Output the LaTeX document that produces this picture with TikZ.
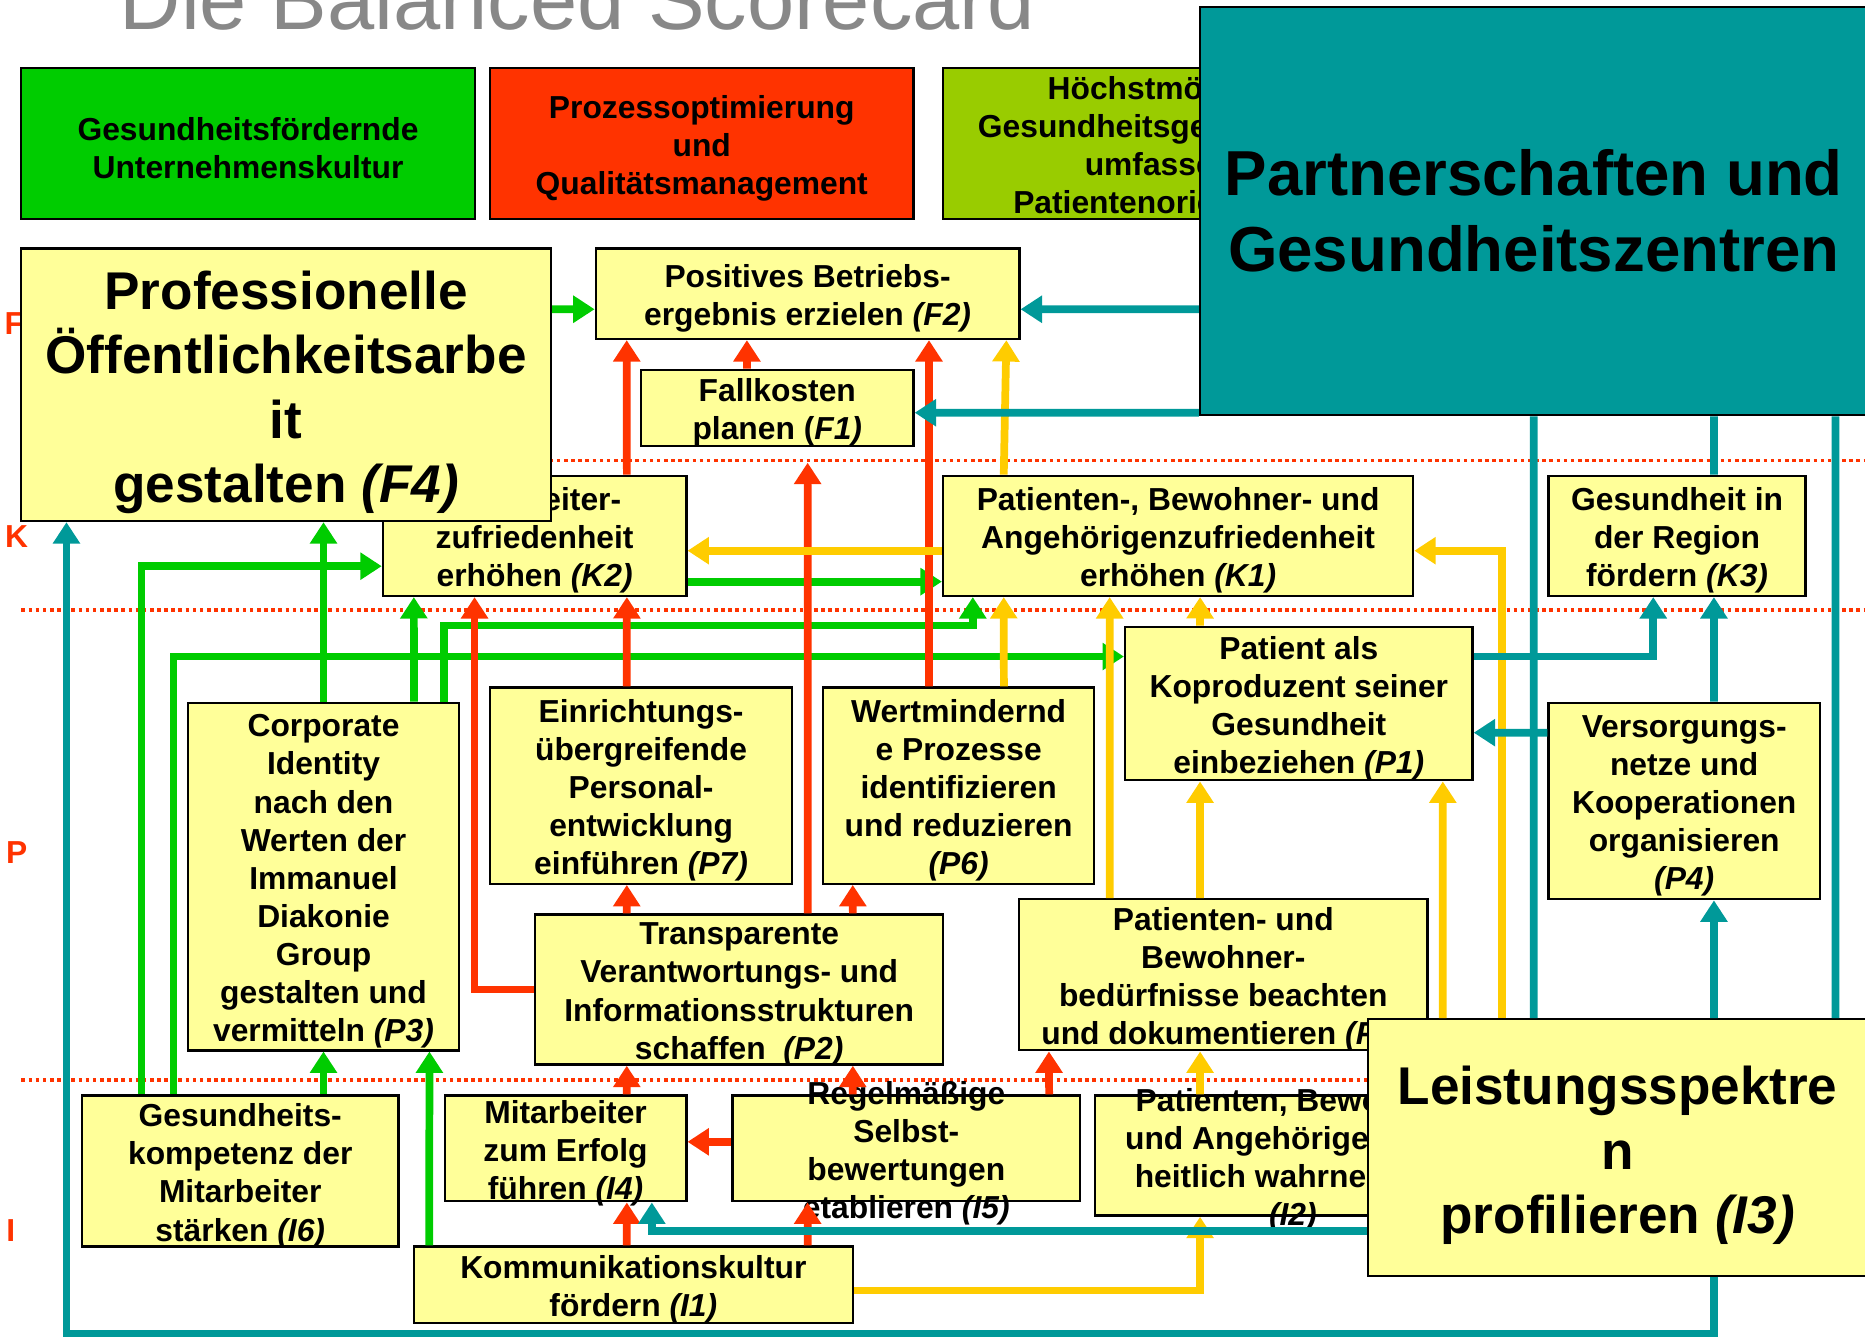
\documentclass[tikz,border=0pt]{standalone}
\usepackage{fontspec}
\setmainfont{Liberation Sans}
\usetikzlibrary{arrows.meta}
\definecolor{goalyellow}{HTML}{FFFF99}
\definecolor{arrowgreen}{HTML}{00CC00}
\definecolor{arrowred}{HTML}{FF3300}
\definecolor{arrowyellow}{HTML}{FFCC00}
\definecolor{arrowteal}{HTML}{009999}
\definecolor{limegreen}{HTML}{99CC00}
\definecolor{titlegray}{HTML}{888888}
\tikzset{
    goalbox/.style={draw=black, line width=0.55pt, fill=goalyellow, inner sep=0pt},
    goaltext/.style={align=center, inner sep=0pt, yshift=-0.04cm, font=\fontsize{7.6}{9.1}\selectfont\bfseries},
    bigtext/.style={align=center, inner sep=0pt, yshift=-0.065cm, font=\fontsize{12.7}{15.4}\selectfont\bfseries},
    headbox/.style={draw=black, line width=0.55pt, inner sep=0pt, minimum height=1.27cm},
    levelline/.style={draw=arrowred, line width=0.03cm, dash pattern=on 0.03cm off 0.03cm},
    levellabel/.style={text=arrowred, inner sep=0pt, font=\fontsize{7.6}{9.1}\selectfont\bfseries},
    conn/.style={line width=0.065cm},
    tip/.style={-{Triangle[width=0.22cm,length=0.18cm]}},
    greenarrow/.style={conn, tip, draw=arrowgreen},
    redarrow/.style={conn, tip, draw=arrowred},
    yellowarrow/.style={conn, tip, draw=arrowyellow},
    tealarrow/.style={conn, tip, draw=arrowteal},
    tealline/.style={conn, draw=arrowteal}
}
\begin{document}
\begin{tikzpicture}[x=0.01cm, y=-0.01cm]
    \useasboundingbox (0,0) rectangle (1568,1124);
    \node[anchor=base west, inner sep=0pt, text=titlegray, font=\fontsize{20.3}{24}\selectfont] (title) at (100,25) {Die Balanced Scorecard};

    % Ebenen
    \draw[levelline] (18,387) -- (1568,387);
    \draw[levelline] (18,513) -- (1568,513);
    \draw[levelline] (18,908) -- (1568,908);
    \node[levellabel] (lblF) at (12,272) {F};
    \node[levellabel] (lblK) at (14,451) {K};
    \node[levellabel] (lblP) at (14,717) {P};
    \node[levellabel] (lblI) at (9,1035) {I};

    % Strategische Themen
    \node[headbox, fill=arrowgreen, minimum width=3.81cm] (hgreen) at (208.5,120.5) {};
    \node[goaltext] (hgreent) at (hgreen) {Gesundheitsfördernde\\Unternehmenskultur};
    \node[headbox, fill=arrowred, minimum width=3.56cm] (hred) at (590,120.5) {};
    \node[goaltext] (hredt) at (hred) {Prozessoptimierung\\und\\Qualitätsmanagement};
    \node[headbox, fill=limegreen, minimum width=3.94cm] (hlime) at (990,120.5) {};
    \node[goaltext] (hlimet) at (hlime) {Höchstmöglicher\\Gesundheitsgewinn durch\\umfassende\\Patientenorientierung};
    \node[headbox, fill=arrowteal, minimum width=5.61cm, minimum height=3.43cm] (pz) at (1289.5,177.5) {};
    \node[align=center, inner sep=0pt, font=\fontsize{15.2}{18.2}\selectfont\bfseries] (pzt) at (pz) {Partnerschaften und\\Gesundheitszentren};

    % Finanzen
    \node[goalbox, minimum width=3.56cm, minimum height=0.76cm] (f2) at (679,247) {};
    \node[goaltext] (f2t) at (f2) {Positives Betriebs-\\ergebnis erzielen \textit{(F2)}};
    \node[goalbox, minimum width=2.29cm, minimum height=0.64cm] (f1) at (653.5,343) {};
    \node[goaltext] (f1t) at (f1) {Fallkosten\\planen (\textit{F1)}};

    % Kunden
    \node[goalbox, minimum width=2.55cm, minimum height=1.01cm] (k2) at (449.5,450.5) {};
    \node[goaltext] (k2t) at (k2) {Mitarbeiter-\\zufriedenheit\\erhöhen \textit{(K2)}};
    \node[goalbox, minimum width=4.45cm, minimum height=2.29cm] (f4) at (240.5,323.5) {};
    \node[bigtext] (f4t) at (f4) {Professionelle\\Öffentlichkeitsarbe\\it\\gestalten \textit{(F4)}};
    \node[goalbox, minimum width=3.95cm, minimum height=1.01cm] (k1) at (990.5,450.5) {};
    \node[goaltext] (k1t) at (k1) {Patienten-, Bewohner- und\\Angehörigenzufriedenheit\\erhöhen \textit{(K1)}};
    \node[goalbox, minimum width=2.16cm, minimum height=1.01cm] (k3) at (1410,450.5) {};
    \node[goaltext] (k3t) at (k3) {Gesundheit in\\der Region\\fördern \textit{(K3)}};

    % Prozesse
    \node[goalbox, minimum width=2.92cm, minimum height=1.29cm] (p1) at (1092,591.5) {};
    \node[goaltext] (p1t) at (p1) {Patient als\\Koproduzent seiner\\Gesundheit\\einbeziehen \textit{(P1)}};
    \node[goalbox, minimum width=2.28cm, minimum height=2.92cm] (p3) at (272,737) {};
    \node[goaltext] (p3t) at (p3) {Corporate\\Identity\\nach den\\Werten der\\Immanuel\\Diakonie\\Group\\gestalten und\\vermitteln \textit{(P3)}};
    \node[goalbox, minimum width=2.54cm, minimum height=1.65cm] (p7) at (539,660.5) {};
    \node[goaltext] (p7t) at (p7) {Einrichtungs-\\übergreifende\\Personal-\\entwicklung\\einführen \textit{(P7)}};
    \node[goalbox, minimum width=2.28cm, minimum height=1.65cm] (p6) at (806,660.5) {};
    \node[goaltext] (p6t) at (p6) {Wertmindernd\\e Prozesse\\identifizieren\\und reduzieren\\\textit{(P6)}};
    \node[goalbox, minimum width=2.28cm, minimum height=1.65cm] (p4) at (1416,673.5) {};
    \node[goaltext] (p4t) at (p4) {Versorgungs-\\netze und\\Kooperationen\\organisieren\\\textit{(P4)}};
    \node[goalbox, minimum width=3.43cm, minimum height=1.26cm] (p2) at (621.5,832) {};
    \node[goaltext] (p2t) at (p2) {Transparente\\Verantwortungs- und\\Informationsstrukturen\\schaffen\ \ \textit{(P2)}};
    \node[goalbox, minimum width=3.43cm, minimum height=1.27cm] (p5) at (1028.5,819.5) {};
    \node[goaltext] (p5t) at (p5) {Patienten- und\\Bewohner-\\bedürfnisse beachten\\und dokumentieren \textit{(P5)}};

    % Innovation
    \node[goalbox, minimum width=2.66cm, minimum height=1.27cm] (i6) at (202,984.5) {};
    \node[goaltext] (i6t) at (i6) {Gesundheits-\\kompetenz der\\Mitarbeiter\\stärken \textit{(I6)}};
    \node[goalbox, minimum width=2.03cm, minimum height=0.89cm] (i4) at (475.5,965.5) {};
    \node[goaltext] (i4t) at (i4) {Mitarbeiter\\zum Erfolg\\führen \textit{(I4)}};
    \node[goalbox, minimum width=2.92cm, minimum height=0.89cm] (i5) at (762,965.5) {};
    \node[goaltext] (i5t) at (i5) {Regelmäßige\\Selbst-\\bewertungen\\etablieren \textit{(I5)}};
    \node[goalbox, minimum width=3.32cm, minimum height=1.01cm] (i2) at (1087,971.5) {};
    \node[goaltext] (i2t) at (i2) {Patienten, Bewohner\\und Angehörige ganz-\\heitlich wahrnehmen\\\textit{(I2)}};
    \node[goalbox, minimum width=3.69cm, minimum height=0.64cm] (i1) at (532.5,1080) {};
    \node[goaltext] (i1t) at (i1) {Kommunikationskultur\\fördern \textit{(I1)}};
    \node[goalbox, minimum width=4.2cm, minimum height=2.16cm] (i3) at (1360,965) {};
    \node[bigtext] (i3t) at (i3) {Leistungsspektre\\n\\profilieren \textit{(I3)}};

    % gruene Pfeile
    \draw[greenarrow] ([yshift=0.635cm]f4.east) -- ([yshift=-0.13cm]f2.west);
    \draw[greenarrow] (p3.north) -- (p3.north |- f4.south);
    \draw[greenarrow] ([xshift=-0.83cm]i6.north) |- ([yshift=-0.255cm]k2.west);
    \draw[greenarrow] ([xshift=-0.56cm]i6.north) |- ([yshift=0.395cm]p1.west);
    \draw[greenarrow] (p3.south |- i6.north) -- (p3.south);
    \draw[greenarrow] ([xshift=-1.715cm]i1.north) -- ([xshift=0.89cm]p3.south);
    \draw[greenarrow] ([xshift=0.76cm]p3.north) -- ([xshift=-1.015cm]k2.south);
    \draw[greenarrow] ([xshift=1.01cm]p3.north) -- ++(0,-64) -| ([xshift=-1.725cm]k1.south);
    \draw[greenarrow] ([yshift=-0.385cm]k2.east) -- ([yshift=-0.385cm]k1.west);

    % rote Pfeile
    \draw[redarrow] ([xshift=0.775cm]k2.north) -- ([xshift=-1.52cm]f2.south);
    \draw[redarrow] ([xshift=-0.255cm]f1.north) -- ([xshift=-0.51cm]f2.south);
    \draw[redarrow] ([xshift=0.575cm]p2.north) -- ([xshift=0.255cm,yshift=-0.13cm]f1.south);
    \draw[redarrow] ([xshift=-0.25cm]p6.north) -- ([xshift=1.02cm]f2.south);
    \draw[redarrow] ([xshift=-0.12cm]p7.north) -- ([xshift=0.775cm]k2.south);
    \draw[redarrow] (p2.west) -| ([xshift=-0.505cm]k2.south);
    \draw[redarrow] ([xshift=-0.945cm]p2.north) -- ([xshift=-0.12cm]p7.south);
    \draw[redarrow] ([xshift=0.955cm]p2.north) -- ([xshift=-0.89cm]p6.south);
    \draw[redarrow] ([xshift=0.515cm]i4.north) -- ([xshift=-0.945cm]p2.south);
    \draw[redarrow] ([xshift=-0.45cm]i5.north) -- ([xshift=0.955cm]p2.south);
    \draw[redarrow] ([yshift=0.055cm]i5.west) -- ([yshift=0.055cm]i4.east);
    \draw[redarrow] ([xshift=1.2cm]i5.north) -- ([xshift=-1.465cm]p5.south);
    \draw[redarrow] ([xshift=-0.055cm]i1.north) -- ([xshift=0.515cm]i4.south);
    \draw[redarrow] ([xshift=1.465cm]i1.north) -- ([xshift=-0.83cm]i5.south);

    % gelbe Pfeile
    \draw[yellowarrow] ([xshift=-1.465cm]k1.north) -- ([xshift=1.67cm]f2.south);
    \draw[yellowarrow] ([yshift=-0.125cm]k1.west) -- ([yshift=-0.125cm]k2.east);
    \draw[yellowarrow] ([xshift=0.38cm]p6.north) -- ([xshift=-1.465cm]k1.south);
    \draw[yellowarrow] ([xshift=-0.955cm]p5.north) -- ([xshift=-0.575cm]k1.south);
    \draw[yellowarrow] ([xshift=-0.83cm]p1.north) -- ([xshift=0.185cm]k1.south);
    \draw[yellowarrow] ([xshift=-0.97cm]i3.north) |- ([yshift=-0.125cm]k1.east);
    \draw[yellowarrow] ([xshift=-0.195cm]p5.north) -- ([xshift=-0.83cm]p1.south);
    \draw[yellowarrow] ([xshift=-1.47cm]i3.north) -- ([xshift=1.21cm]p1.south);
    \draw[yellowarrow] ([xshift=-0.78cm]i2.north) -- ([xshift=-0.195cm]p5.south);
    \draw[yellowarrow] ([yshift=-0.05cm]i1.east) -| ([xshift=-0.78cm]i2.south);

    % tuerkise Pfeile
    \draw[tealarrow] ([yshift=-0.825cm]pz.west) -- ([yshift=-0.13cm]f2.east);
    \draw[tealarrow] ([yshift=-1.695cm]pz.west) -- ([yshift=-0.04cm]f1.east);
    \draw[tealline] ([xshift=1.515cm]pz.south) -- ([xshift=0.31cm]k3.north);
    \draw[tealline] (pz.south) -- ([xshift=-0.705cm]i3.north);
    \draw[tealline] ([xshift=2.535cm]pz.south) -- ([xshift=1.83cm]i3.north);
    \draw[tealarrow] ([yshift=0.395cm]p1.east) -| ([xshift=-0.2cm]k3.south);
    \draw[tealarrow] ([xshift=0.25cm]p4.north) -- ([xshift=0.31cm]k3.south);
    \draw[tealarrow] ([yshift=0.575cm]p4.west) -- ([yshift=-0.245cm]p1.east);
    \draw[tealarrow] ([xshift=0.81cm]i3.north) -- ([xshift=0.25cm]p4.south);
    \draw[tealarrow] ([yshift=-0.7cm]i3.west) -| ([xshift=0.725cm]i4.south);
    \draw[tealarrow] ([xshift=0.81cm]i3.south) -- ++(0,47) -| ([xshift=-1.845cm]f4.south);
\end{tikzpicture}
\end{document}
